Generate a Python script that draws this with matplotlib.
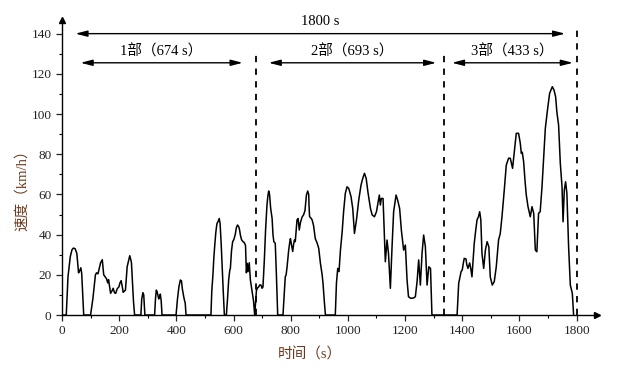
import matplotlib
matplotlib.use("Agg")
import matplotlib.pyplot as plt
import numpy as np

plt.rcParams['font.family'] = ['Liberation Serif', 'Noto Sans CJK SC']

# speed trace (time s, speed km/h)
time_s = [0, 15, 21, 29, 35, 40, 46, 52, 58, 62, 66, 69, 76,
          100, 108, 117, 121, 126, 135, 141, 146, 151, 156, 160, 163, 168, 170, 175, 179, 184,
          188, 193, 199, 203, 207, 211, 214, 219, 222, 225, 228, 233, 237, 240, 243, 247, 250, 254,
          276, 279, 283, 286, 290,
          324, 327, 330, 333, 338.5, 341, 344, 347, 350,
          399, 404, 409, 414, 418, 421, 426, 429, 431, 434,
          521, 524, 528, 531, 534, 538, 542, 546, 550, 553, 557, 560, 564, 568,
          575, 579, 583, 587, 589, 593, 597, 601, 606, 610, 614, 618, 621, 624, 628, 633, 638,
          642, 645, 648, 651, 655, 659, 665, 670, 674,
          677, 680, 683, 688, 692, 696, 700, 703, 708, 712, 717, 720, 723, 726, 730, 735, 738,
          741, 746, 750, 754.5,
          773, 778, 781, 784, 787, 790, 793, 797, 799, 802, 807, 810, 813, 816, 819, 822, 826,
          830, 834, 840, 845, 850, 855, 859.5, 863, 864, 866, 872, 875, 880, 886, 892, 898, 904,
          910, 913, 918, 921.5,
          956, 960, 964.5, 969, 974, 980, 985, 991, 997, 1003, 1011, 1017, 1023, 1030, 1038,
          1046, 1052, 1058, 1064, 1070, 1079, 1085, 1093, 1100, 1106, 1110, 1113.6, 1117, 1123,
          1128, 1131, 1137, 1142, 1148.6, 1154.5, 1160, 1168.5, 1174, 1181, 1187, 1195, 1201,
          1207, 1212, 1220, 1230, 1236, 1242, 1247.6, 1253.5, 1259.4, 1265, 1271, 1277, 1283,
          1289, 1294,
          1382, 1387.6, 1396, 1400, 1404, 1407, 1413, 1416, 1420, 1426, 1430, 1434, 1438, 1442,
          1447, 1451.7, 1457, 1461, 1465, 1469, 1475, 1481, 1487, 1493, 1498, 1505, 1512, 1519,
          1527, 1533, 1539, 1547, 1554, 1562, 1568, 1576, 1582, 1589, 1597, 1603, 1606.6, 1610,
          1614.7, 1620, 1624, 1630, 1638, 1644, 1650, 1655.6, 1661, 1667, 1672.6, 1679, 1685,
          1690.6, 1698.8, 1705.6, 1715, 1721, 1726.6, 1731, 1737, 1743, 1749, 1752.6, 1757,
          1761.5, 1766, 1772, 1778, 1785, 1789.5]
speed = [0, 0, 19, 29, 32.5, 33.3, 33, 30.6, 21, 22, 23.5, 20.7, 0,
         0, 8, 20, 21, 20.5, 26, 27.5, 20, 19, 18, 16, 17.6, 13, 10.8, 12, 13.3, 11,
         10.8, 13, 14, 16, 17.1, 14, 11.3, 12, 12.4, 18, 24, 27, 29.5, 28, 26, 15, 7, 0,
         0, 8, 11.1, 10, 0,
         0, 8, 12.4, 11.5, 8, 9, 10.4, 7, 0,
         0, 8, 14, 17.4, 17, 13, 9, 7, 6, 0,
         0, 12, 20, 28, 34, 41, 45.5, 46.5, 48, 45.6, 35, 25, 12, 0,
         0, 8, 17.4, 22.4, 23.2, 32, 36.5, 37.5, 40, 43.5, 44.8, 44, 42.5, 39.8, 37.5, 36.5, 36,
         34.5, 21, 25.7, 21.6, 26, 17.4, 11.6, 7, 0,
         6, 12, 13.3, 14, 15, 14.9, 13.3, 14, 28, 42, 54.7, 59, 61.7, 60, 53, 48, 40,
         36.5, 35.7, 20, 0,
         0, 12, 19, 20, 23.5, 28, 32.3, 36.5, 38, 35.7, 31.6, 35, 37.3, 36.5, 42, 47.3, 48,
         42.3, 46, 48.8, 49.8, 52, 59.7, 61.7, 60, 54.7, 49, 48, 47.3, 44.5, 38, 36, 33.2, 25.7,
         20, 15.8, 6, 0,
         0, 15.8, 23.2, 21.6, 32.3, 41.4, 51.4, 60.5, 63.8, 63, 58.9, 53, 40.6, 47.3, 57.2,
         64.7, 68, 70.5, 68, 61.3, 53, 49.8, 48.9, 51.4, 56.4, 59.7, 54.7, 58, 58,
         39, 26.5, 37.3, 30.7, 13.3, 34, 51.4, 59.7, 57.2, 53, 42.3, 32.3, 34.8,
         17.4, 9.1, 8.3, 8.5, 9.1, 16.6, 27.4, 14.9, 30.7, 39.8, 34, 14.9, 24,
         23.2, 0,
         0, 15.8, 21.6, 22.4, 26, 28.2, 27.9, 25, 23.2, 25.9, 23, 19, 27, 35.7,
         42, 47.3, 49, 51.4, 47.3, 30.7, 23.2, 32.3, 36.5, 34, 19, 14.9, 16.6, 24,
         37.3, 40.6, 48.9, 62.2, 74.6, 78, 78, 73, 81.2, 90.4, 90.4, 85.5, 80.4, 81,
         76.3, 66, 59.7, 53.9, 48.9, 53.9, 50.6, 32.3, 31.5, 50.6, 51.4, 63.8, 79,
         92.9, 102.8, 110.3, 113.6, 111.9, 108.6, 101, 94.5, 75.5, 63.8, 46.4, 62.2,
         66.3, 60.5, 34, 14.9, 10.8, 0]

# segment boundaries (dashed lines) and labelled spans
boundaries = [679, 1337, 1800]
boundary_tops = [129.5, 130, 143.5]
part_labels = ['1部（674 s）', '2部（693 s）', '3部（433 s）']
part_spans = [(65, 632), (723, 1309), (1364, 1787)]
total_label = '1800 s'
total_span = (47, 1760)

fig = plt.figure(figsize=(6.21, 3.70), dpi=100)
ax = fig.add_axes([0.0998, 0.1486, 0.8614, 0.7974])

ax.plot(time_s, speed, color='black', lw=1.1)

for b, top in zip(boundaries, boundary_tops):
    ax.plot([b, b], [0, top], color='black', lw=1.3, ls=(0, (3.5, 3.5)))

arrow_kw = dict(arrowstyle='<|-|>,head_length=0.7,head_width=0.18', color='black',
                lw=1.0, mutation_scale=10, shrinkA=0, shrinkB=0)
ax.annotate('', xy=(total_span[1], 140), xytext=(total_span[0], 140), arrowprops=arrow_kw)
ax.text(np.mean(total_span), 143, total_label, ha='center', va='bottom', fontsize=10.5)
for lab, (a, b) in zip(part_labels, part_spans):
    ax.annotate('', xy=(b, 125.5), xytext=(a, 125.5), arrowprops=arrow_kw)
    ax.text((a + b) / 2, 127.5, lab, ha='center', va='bottom', fontsize=10.5)

ax.set_xlim(0, 1871)
ax.set_ylim(0, 146.8)
ax.spines['top'].set_color('none')
ax.spines['right'].set_color('none')
ax.spines['left'].set_linewidth(1.0)
ax.spines['bottom'].set_linewidth(1.0)
ax.plot(1, 0, '>k', ms=5, transform=ax.transAxes, clip_on=False)
ax.plot(0, 1, '^k', ms=5, transform=ax.transAxes, clip_on=False)

ax.set_xticks(np.arange(0, 1801, 200))
ax.set_xticks(np.arange(100, 1801, 200), minor=True)
ax.set_yticks(np.arange(0, 141, 20))
ax.set_yticks(np.arange(10, 141, 20), minor=True)
ax.tick_params(which='major', direction='out', length=4, width=0.9, labelsize=9.5,
               colors='#222222')
ax.tick_params(which='minor', direction='out', length=2.5, width=0.8)

ax.set_xlabel('时间（s）', fontsize=10.5, color='#6b3a1e')
ax.set_ylabel('速度（km/h）', fontsize=10.5, color='#6b3a1e')
ax.xaxis.set_label_coords(0.464, -0.11)
ax.yaxis.set_label_coords(-0.062, 0.434)

fig.savefig('out.png', dpi=100)
